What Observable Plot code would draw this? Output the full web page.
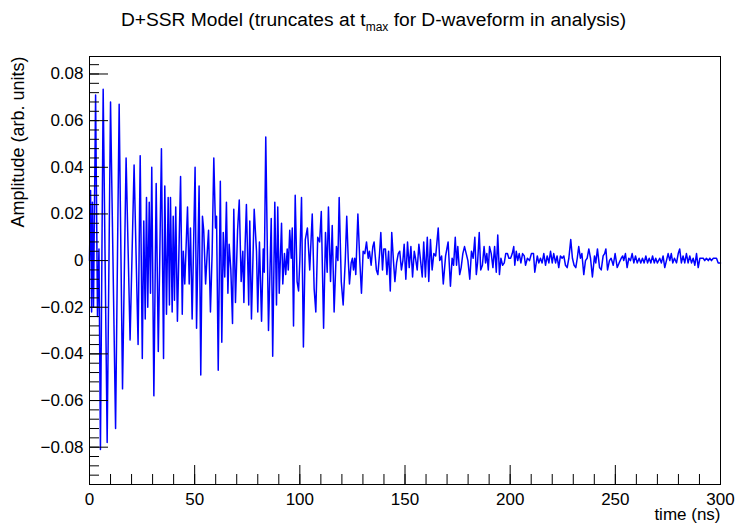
<!DOCTYPE html>
<html>
<head>
<meta charset="utf-8">
<script src="https://cdn.jsdelivr.net/npm/d3@7"></script>
<script src="https://cdn.jsdelivr.net/npm/@observablehq/plot@0.6"></script>
<style>
  html, body { margin: 0; padding: 0; background: #fff; }
  #wrap { position: relative; width: 735px; height: 524px; font-family: "Liberation Sans", Arial, sans-serif; }
  #title { position: absolute; left: 6px; top: 9px; width: 735px; text-align: center; font-size: 19.2px; color: #000; white-space: nowrap; }
  #title sub { font-size: 12px; vertical-align: -5px; line-height: 0; }
  #chart { position: absolute; left: 0; top: 0; }
</style>
</head>
<body>
<div id="wrap">
  <div id="chart"></div>
  <div id="title">D+SSR Model (truncates at t<sub>max</sub> for D-waveform in analysis)</div>
</div>
<script>
// ---- data (time in ns, amplitude in arb. units) ----
const timeNs = [
  0.0, 0.5, 1.0, 1.4, 1.9, 2.9, 3.8, 4.5, 5.2, 6.5,
  8.4, 10.0, 12.4, 14.1, 15.7, 17.4, 19.3, 21.2, 23.1, 24.1,
  25.1, 25.8, 26.5, 27.1, 27.7, 28.4, 29.0, 29.6, 30.6, 31.7,
  32.7, 34.2, 35.2, 35.8, 36.6, 37.4, 38.0, 38.5, 39.3, 39.8,
  40.4, 41.0, 41.8, 42.5, 43.3, 44.1, 44.6, 45.3, 46.6, 47.4,
  48.0, 48.8, 50.2, 50.9, 52.1, 52.9, 53.7, 54.3, 55.2, 56.0,
  56.6, 57.5, 58.3, 59.1, 59.9, 60.4, 61.2, 62.2, 62.9, 63.6,
  64.3, 65.1, 65.8, 66.4, 67.2, 68.0, 68.6, 69.4, 70.4, 71.2,
  72.1, 72.9, 73.4, 74.0, 74.6, 75.7, 76.2, 77.0, 78.3, 79.4,
  80.0, 80.8, 81.8, 82.6, 83.1, 83.8, 85.1, 86.4, 87.1, 88.1,
  88.9, 89.5, 90.2, 91.3, 91.9, 92.7, 93.3, 94.0, 94.5, 95.2,
  95.9, 96.4, 97.0, 97.8, 98.7, 99.4, 100.0, 100.8, 101.7, 102.6,
  103.6, 104.7, 105.9, 106.8, 107.6, 108.5, 109.4, 110.2, 111.3, 112.2,
  113.0, 113.6, 114.6, 115.4, 116.3, 117.4, 118.1, 118.7, 119.7, 120.6,
  121.6, 122.3, 123.0, 123.6, 124.4, 125.0, 125.5, 126.1, 126.6, 127.6,
  128.5, 129.3, 130.1, 130.9, 131.7, 132.5, 133.1, 133.9, 134.7, 135.3,
  136.4, 137.1, 137.9, 138.5, 139.3, 139.9, 140.7, 141.4, 142.2, 143.0,
  143.7, 144.5, 145.2, 146.0, 146.8, 147.5, 148.3, 149.0, 149.6, 150.4,
  151.2, 152.0, 152.8, 153.6, 154.4, 155.0, 155.8, 156.6, 157.4, 158.2,
  158.9, 159.7, 160.6, 161.3, 162.1, 162.9, 163.7, 164.6, 165.8, 166.5,
  167.4, 168.2, 169.3, 170.5, 171.6, 172.4, 173.1, 173.9, 174.5, 175.1,
  176.0, 176.7, 177.5, 178.3, 179.1, 179.9, 180.8, 181.6, 182.4, 183.2,
  183.9, 184.5, 185.3, 186.0, 186.8, 187.6, 188.3, 188.9, 189.6, 190.2,
  191.0, 191.8, 192.6, 193.4, 194.1, 194.9, 195.6, 196.4, 197.2, 197.9,
  198.7, 199.4, 200.2, 201.0, 201.7, 202.2, 202.9, 203.6, 204.3, 205.1,
  205.9, 206.7, 207.3, 208.2, 209.2, 210.1, 211.1, 211.7, 212.9, 213.6,
  214.4, 215.2, 216.0, 216.8, 217.6, 218.4, 219.2, 220.0, 220.7, 221.6,
  222.3, 223.1, 223.9, 224.7, 225.5, 226.3, 227.1, 227.9, 228.8, 229.6,
  230.4, 231.2, 231.9, 232.6, 233.4, 234.1, 235.0, 235.8, 236.6, 237.4,
  238.2, 239.1, 240.1, 240.7, 241.5, 242.5, 243.3, 244.2, 244.9, 245.5,
  246.3, 247.2, 248.0, 249.0, 249.9, 250.9, 251.8, 252.8, 253.5, 254.0,
  254.8, 255.6, 256.4, 257.2, 258.0, 258.8, 259.6, 260.4, 261.3, 262.1,
  262.9, 263.7, 264.5, 265.3, 266.1, 266.9, 267.7, 268.5, 269.2, 270.0,
  271.1, 271.9, 272.7, 273.5, 274.3, 275.1, 275.9, 276.6, 277.3, 278.1,
  279.1, 279.9, 280.6, 281.4, 282.2, 283.0, 283.8, 284.6, 285.4, 286.2,
  287.0, 287.8, 288.6, 289.4, 290.2, 291.0, 291.8, 292.5, 293.3, 294.2,
  294.9, 295.7, 296.6, 297.3, 298.1, 298.9, 299.7, 300.0
];
const amplitude = [
  0.000, 0.030, -0.022, 0.025, -0.020, 0.071, -0.024, 0.005, -0.081, 0.0735,
  -0.078, 0.068, -0.072, 0.067, -0.055, 0.044, -0.034, 0.041, -0.036, 0.045,
  -0.042, 0.017, -0.025, 0.027, -0.020, 0.025, -0.014, 0.040, -0.058, 0.033,
  -0.039, 0.048, -0.042, 0.032, -0.023, 0.027, -0.019, 0.027, -0.022, 0.019,
  -0.017, 0.023, -0.026, 0.003, 0.036, -0.023, 0.004, -0.010, 0.023, -0.010,
  0.014, -0.025, 0.040, -0.029, 0.032, -0.049, 0.019, 0.013, -0.010, 0.004,
  0.013, -0.022, 0.003, 0.044, 0.014, 0.019, -0.047, 0.034, -0.035, 0.012,
  -0.007, 0.025, -0.014, 0.007, -0.004, -0.027, 0.022, -0.018, 0.013, 0.026,
  -0.009, 0.004, -0.018, 0.007, 0.024, -0.019, 0.017, -0.025, 0.022, 0.004,
  -0.022, 0.008, -0.026, 0.005, -0.005, 0.053, -0.030, 0.018, -0.041, 0.025,
  -0.019, 0.023, -0.014, 0.016, -0.010, 0.003, -0.006, 0.005, -0.004, 0.013,
  0.001, 0.014, -0.028, 0.028, -0.009, -0.013, 0.000, 0.027, -0.037, 0.009,
  0.014, -0.004, 0.020, -0.012, -0.022, 0.010, 0.008, 0.021, -0.029, 0.012,
  -0.005, 0.023, -0.009, 0.015, -0.022, 0.006, 0.000, 0.027, -0.009, -0.019,
  0.000, 0.019, 0.001, -0.010, -0.001, 0.001, -0.004, 0.001, -0.006, 0.020,
  0.000, -0.014, 0.004, 0.003, 0.008, 0.001, 0.004, -0.002, 0.006, 0.008,
  -0.004, -0.006, 0.003, 0.012, -0.004, 0.005, 0.005, -0.006, 0.004, -0.013,
  0.012, 0.000, -0.009, -0.001, 0.003, 0.004, -0.004, 0.000, 0.007, -0.008,
  0.008, -0.003, 0.006, -0.007, 0.004, 0.001, -0.004, 0.007, 0.000, -0.007,
  0.008, -0.007, 0.010, -0.009, 0.009, -0.004, 0.003, 0.002, 0.014, 0.000,
  0.002, -0.010, 0.002, 0.008, -0.011, 0.001, -0.002, 0.010, -0.002, 0.006,
  -0.006, -0.003, 0.003, 0.006, 0.003, 0.000, -0.008, 0.004, 0.001, 0.010,
  -0.006, -0.001, 0.012, -0.004, -0.002, 0.006, -0.001, 0.003, -0.004, 0.006,
  0.003, -0.003, 0.006, -0.005, 0.011, -0.006, 0.001, -0.002, -0.001, 0.003,
  0.003, 0.001, 0.001, 0.003, 0.006, -0.002, 0.004, 0.000, 0.003, -0.001,
  0.003, 0.002, -0.002, 0.001, 0.000, 0.003, 0.003, -0.005, 0.002, -0.001,
  0.001, -0.001, 0.003, -0.002, 0.002, -0.001, 0.004, -0.001, 0.003, -0.001,
  0.002, -0.003, 0.002, 0.001, 0.002, -0.002, -0.003, 0.001, 0.009, 0.001,
  -0.002, -0.003, 0.001, 0.006, 0.001, 0.003, -0.006, 0.000, 0.001, 0.005,
  0.001, -0.007, 0.002, -0.001, 0.005, -0.003, -0.004, 0.002, 0.003, 0.005,
  -0.004, 0.000, 0.001, -0.002, 0.003, -0.003, -0.001, 0.001, 0.002, 0.000,
  0.003, -0.003, 0.001, 0.000, 0.003, -0.001, 0.002, -0.001, 0.001, -0.001,
  0.001, -0.001, 0.002, -0.001, 0.001, -0.001, 0.002, -0.001, 0.001, -0.001,
  0.001, -0.001, 0.002, -0.003, 0.000, 0.003, 0.000, 0.003, -0.001, 0.001,
  -0.001, 0.003, 0.005, -0.001, 0.002, -0.001, 0.003, -0.001, 0.002, -0.001,
  0.001, -0.002, 0.003, -0.003, 0.001, 0.001, 0.001, 0.000, 0.001, 0.000,
  0.001, 0.000, 0.001, 0.001, 0.001, -0.001, -0.001, -0.001
];

// ---- axes ----
const xDomain = [0, 300];
const yDomain = [-0.096, 0.0875];
const xTickLabels = [0, 50, 100, 150, 200, 250, 300];
const xMinorStep = 10;
const yTickLabels = [-0.08, -0.06, -0.04, -0.02, 0, 0.02, 0.04, 0.06, 0.08];
const yMinorStep = 0.004;
const titleX = "time (ns)";
const titleY = "Amplitude (arb. units)";

const data = timeNs.map((t, i) => ({t, v: amplitude[i]}));
const xMinor = d3.range(xDomain[0], xDomain[1] + 1e-9, xMinorStep);
const yMinor = d3.range(-0.096, yDomain[1] + 1e-9, yMinorStep).map(v => +v.toFixed(4));
const fmtY = v => v === 0 ? "0" : d3.format(".2f")(v).replace("-", "\u2212");

const chart = Plot.plot({
  width: 735,
  height: 524,
  marginLeft: 89,
  marginRight: 15,
  marginTop: 56,
  marginBottom: 40,
  style: {fontFamily: "'Liberation Sans', Arial, sans-serif", fontSize: "17px", background: "transparent", color: "#000"},
  x: {domain: xDomain},
  y: {domain: yDomain},
  marks: [
    Plot.line(data, {x: "t", y: "v", stroke: "#0000ff", strokeWidth: 1.5}),
    Plot.axisY(yMinor, {anchor: "left", tickSize: -10, stroke: "#000", fill: "none", label: null}),
    Plot.axisY(yTickLabels, {anchor: "left", tickSize: -19, stroke: "#000", fill: "none", label: null}),
    Plot.axisY(yTickLabels, {anchor: "left", tickSize: 0, tickPadding: 6, fontSize: 17, fill: "#000", label: null, tickFormat: fmtY}),
    Plot.axisX(xMinor, {anchor: "bottom", tickSize: -10, stroke: "#000", fill: "none", label: null}),
    Plot.axisX(xTickLabels, {anchor: "bottom", tickSize: -19, stroke: "#000", fill: "none", label: null}),
    Plot.axisX(xTickLabels, {anchor: "bottom", tickSize: 0, tickPadding: 8, fontSize: 17, fill: "#000", label: null, tickFormat: d3.format("d")}),
    Plot.frame({stroke: "#000", strokeWidth: 1}),
    Plot.text([titleY], {frameAnchor: "top-left", rotate: -90, textAnchor: "end", dx: -78, dy: 0, fontSize: 18, fill: "#000"}),
    Plot.text([titleX], {frameAnchor: "bottom-right", textAnchor: "end", dy: 35, fontSize: 17, fill: "#000"})
  ]
});
document.getElementById("chart").appendChild(chart);
</script>
</body>
</html>
